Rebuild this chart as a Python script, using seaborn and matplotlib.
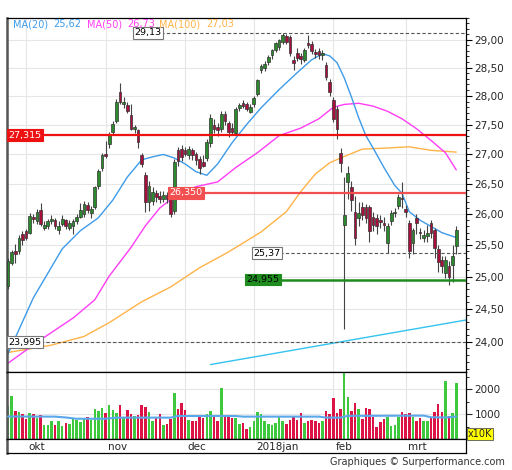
import numpy as np
import pandas as pd
import matplotlib
matplotlib.use("Agg")
import matplotlib.pyplot as plt
import matplotlib.ticker as mticker
import seaborn as sns

# daily candles, 25 sep 2017 .. 20 mrt 2018 (trading days)
opens = [24.86, 25.22, 25.40, 25.40, 25.67, 25.72, 25.70, 25.96, 25.88, 26.06,
         25.78, 25.80, 25.88, 25.90, 25.74, 25.84, 25.90, 25.78, 25.80, 25.88,
         25.96, 26.00, 26.15, 26.02, 26.12, 26.47, 26.77, 27.00, 27.16, 27.38,
         27.56, 28.06, 27.86, 27.84, 27.66, 27.43, 27.40, 26.98, 26.64, 26.20,
         26.22, 26.34, 26.30, 26.24, 26.32, 26.25, 26.05, 27.06, 27.08, 27.06,
         26.98, 27.06, 27.00, 26.92, 26.86, 26.93, 27.18, 27.50, 27.46, 27.42,
         27.68, 27.52, 27.44, 27.36, 27.79, 27.88, 27.85, 27.72, 27.85, 28.03,
         28.46, 28.50, 28.60, 28.72, 28.82, 28.87, 28.96, 29.07, 29.05, 28.64,
         28.77, 28.70, 28.64, 28.95, 28.93, 28.78, 28.80, 28.72, 28.55, 28.25,
         27.92, 27.77, 27.02, 25.83, 26.52, 26.44, 26.04, 25.94, 26.12, 26.12,
         26.12, 25.96, 25.93, 25.90, 25.86, 25.53, 25.88, 26.01, 26.14, 26.26,
         26.09, 25.85, 25.53, 25.94, 25.70, 25.61, 25.64, 25.85, 25.74, 25.43,
         25.27, 25.05, 25.17, 25.18, 25.49]
highs = [25.30, 25.42, 25.52, 25.66, 25.72, 25.76, 26.02, 26.00, 26.08, 26.18,
         25.88, 25.92, 25.98, 25.94, 25.88, 25.98, 25.92, 25.90, 25.92, 26.00,
         26.18, 26.22, 26.20, 26.14, 26.47, 26.75, 27.02, 27.22, 27.38, 27.56,
         27.95, 28.22, 27.98, 27.90, 27.85, 27.50, 27.43, 27.02, 26.70, 26.55,
         26.45, 26.40, 26.38, 26.38, 26.36, 26.30, 26.92, 27.12, 27.15, 27.12,
         27.14, 27.10, 27.04, 26.96, 26.98, 27.26, 27.68, 27.60, 27.52, 27.74,
         27.74, 27.56, 27.52, 27.80, 27.88, 27.92, 27.90, 27.86, 28.00, 28.30,
         28.56, 28.62, 28.72, 28.84, 28.97, 29.02, 29.13, 29.10, 29.08, 28.70,
         28.85, 28.76, 28.86, 29.09, 28.98, 28.84, 28.86, 28.82, 28.60, 28.30,
         27.98, 27.82, 27.10, 26.61, 26.80, 26.55, 26.30, 26.20, 26.20, 26.16,
         26.15, 26.03, 26.00, 25.98, 25.95, 25.86, 26.06, 26.10, 26.33, 26.53,
         26.15, 25.90, 25.78, 26.00, 25.78, 25.75, 25.82, 25.90, 25.78, 25.50,
         25.33, 25.33, 25.24, 25.50, 25.80]
lows = [24.80, 25.18, 25.22, 25.36, 25.50, 25.58, 25.68, 25.86, 25.84, 25.80,
        25.74, 25.76, 25.84, 25.76, 25.68, 25.80, 25.76, 25.74, 25.67, 25.84,
        25.94, 25.95, 26.02, 25.94, 26.08, 26.42, 26.72, 26.93, 27.10, 27.34,
        27.52, 27.85, 27.78, 27.70, 27.40, 27.36, 27.10, 26.78, 26.04, 26.05,
        26.15, 26.20, 26.18, 26.20, 26.18, 25.95, 26.00, 26.80, 26.88, 26.96,
        26.92, 26.90, 26.82, 26.66, 26.78, 26.88, 27.12, 27.36, 27.30, 27.38,
        27.50, 27.28, 27.32, 27.33, 27.74, 27.78, 27.74, 27.70, 27.80, 28.00,
        28.40, 28.44, 28.55, 28.66, 28.78, 28.82, 28.92, 28.92, 28.70, 28.45,
        28.62, 28.56, 28.60, 28.85, 28.74, 28.68, 28.66, 28.64, 28.28, 28.00,
        27.55, 27.26, 26.69, 24.20, 26.25, 26.05, 25.50, 25.80, 25.90, 25.85,
        25.55, 25.72, 25.68, 25.78, 25.72, 25.38, 25.82, 25.95, 26.08, 26.10,
        25.95, 25.30, 25.35, 25.68, 25.60, 25.55, 25.55, 25.62, 25.30, 25.08,
        25.05, 24.98, 24.87, 24.92, 25.35]
closes = [25.24, 25.39, 25.36, 25.62, 25.58, 25.62, 25.97, 25.92, 26.04, 25.84,
          25.82, 25.88, 25.92, 25.80, 25.80, 25.92, 25.80, 25.85, 25.88, 25.96,
          26.07, 26.17, 26.07, 26.09, 26.44, 26.72, 26.98, 26.96, 27.32, 27.51,
          27.90, 27.90, 27.90, 27.74, 27.43, 27.46, 27.21, 26.83, 26.20, 26.47,
          26.36, 26.28, 26.24, 26.32, 26.24, 26.00, 26.87, 26.88, 26.95, 27.00,
          27.08, 26.98, 26.90, 26.77, 26.80, 27.21, 27.62, 27.43, 27.40, 27.68,
          27.56, 27.38, 27.38, 27.77, 27.84, 27.83, 27.77, 27.80, 27.97, 28.28,
          28.52, 28.57, 28.69, 28.82, 28.95, 29.00, 29.09, 28.96, 28.76, 28.58,
          28.68, 28.66, 28.82, 28.90, 28.80, 28.74, 28.72, 28.76, 28.33, 28.07,
          27.60, 27.43, 26.85, 25.99, 26.67, 26.23, 25.61, 26.01, 25.99, 25.93,
          25.72, 25.83, 25.80, 25.87, 25.83, 25.80, 26.01, 26.04, 26.28, 26.24,
          26.04, 25.40, 25.75, 25.86, 25.69, 25.66, 25.70, 25.69, 25.45, 25.23,
          25.16, 25.27, 24.99, 25.33, 25.75]
# volume in units of 10K
volume = [1320, 1730, 1130, 1090, 990, 800, 1030, 1000, 830, 950,
          560, 560, 720, 560, 720, 520, 650, 600, 850, 760,
          670, 830, 880, 760, 1190, 1120, 1240, 1050, 1360, 1160,
          1050, 1360, 830, 1160, 990, 920, 960, 1360, 1280, 1090,
          720, 830, 990, 560, 600, 790, 1850, 1200, 1430, 1160,
          760, 730, 720, 890, 830, 990, 1130, 920, 720, 2030,
          920, 880, 830, 830, 600, 650, 390, 490, 720, 1090,
          990, 720, 600, 560, 650, 890, 730, 600, 760, 880,
          760, 1050, 650, 730, 760, 720, 650, 720, 1130, 990,
          1630, 1050, 1190, 2800, 1670, 1130, 1430, 1200, 790, 1230,
          1190, 890, 470, 670, 790, 890, 520, 560, 890, 1090,
          990, 1030, 880, 720, 830, 730, 720, 830, 1090, 1400,
          1090, 2330, 930, 1050, 2230]

# moving averages (day index, value)
ma20_day = [0, 7, 15, 20, 25, 29, 33, 37, 40, 43, 46, 49, 52, 55, 58, 62, 66, 70,
            75, 80, 84, 87, 89, 91, 93, 95, 97, 99, 101, 104, 107, 109, 111, 114,
            117, 120, 124]
ma20_val = [23.82, 24.67, 25.44, 25.73, 25.94, 26.23, 26.61, 26.90, 26.95, 26.99,
            26.93, 26.83, 26.70, 26.64, 26.83, 27.19, 27.50, 27.79, 28.11, 28.41,
            28.64, 28.75, 28.71, 28.59, 28.32, 27.98, 27.62, 27.31, 27.10, 26.77,
            26.47, 26.34, 26.04, 25.90, 25.80, 25.70, 25.62]
ma50_day = [0, 9, 18, 24, 28, 34, 38, 42, 47, 52, 58, 63, 69, 75, 81, 86, 90, 93,
            97, 101, 105, 109, 113, 117, 121, 124]
ma50_val = [23.68, 24.03, 24.36, 24.64, 25.01, 25.46, 25.81, 26.10, 26.33, 26.45,
            26.53, 26.77, 27.02, 27.31, 27.44, 27.60, 27.80, 27.85, 27.87, 27.82,
            27.73, 27.60, 27.43, 27.23, 27.02, 26.73]
ma100_day = [0, 12, 21, 28, 37, 45, 53, 61, 70, 77, 81, 85, 89, 92, 98, 105, 111,
             117, 124]
ma100_val = [23.84, 23.95, 24.08, 24.29, 24.61, 24.84, 25.14, 25.39, 25.71, 26.04,
             26.37, 26.66, 26.85, 26.93, 27.08, 27.10, 27.12, 27.06, 27.03]
volma_day = [0, 13, 16, 19, 27, 30, 45, 47, 63, 65, 86, 88, 92, 94, 115, 117, 121, 124]
volma_val = [900, 895, 860, 810, 810, 855, 855, 920, 920, 895, 895, 855, 855, 925,
             935, 870, 860, 900]

trend_day = [56, 126.7]
trend_val = [23.66, 24.33]

# horizontal levels: value, label, first day, style
level_val = [29.13, 27.315, 26.35, 25.37, 24.955, 23.995]
level_txt = ["29,13", "27,315", "26,350", "25,37", "24,955", "23,995"]
level_from = [34.6, -0.28, 44.3, 67.5, 65.6, -0.28]
level_kind = ["dash", "red", "red2", "dash", "green", "dash"]

month_day = [5, 27, 49, 68, 90, 110]
month_txt = ["okt", "nov", "dec", "2018jan", "feb", "mrt"]

legend_name = ["MA(20)", "MA(50)", "MA(100)"]
legend_last = ["25,62", "26,73", "27,03"]

df = pd.DataFrame({"day": np.arange(len(closes)), "open": opens, "high": highs,
                   "low": lows, "close": closes, "volume": volume})
df["up"] = df.close >= df.open

sns.set_style("white")
plt.rcParams["font.family"] = ["DejaVu Sans"]

C_BLUE = "#3d9be9"
C_MAG = "#ff3df5"
C_ORG = "#ffb347"

fig = plt.figure(figsize=(5.12, 4.70), dpi=100)
W, H = 512.0, 470.0
ax = fig.add_axes([7 / W, 1 - 372 / H, 459 / W, 354 / H])
axv = fig.add_axes([7 / W, 1 - 439 / H, 459 / W, 67 / H], sharex=ax)
axl = fig.add_axes([7 / W, 1 - 453 / H, 459 / W, 14 / H], sharex=ax)

XMIN, XMAX = -0.28, 126.7
ax.set_yscale("log")
ax.set_ylim(23.55, 29.40)
ax.set_xlim(XMIN, XMAX)

comma = mticker.FuncFormatter(lambda v, p: f"{v:.2f}".replace(".", ","))
ax.yaxis.set_major_locator(mticker.FixedLocator(np.arange(24, 29.01, 0.5)))
ax.yaxis.set_minor_locator(mticker.FixedLocator(np.arange(23.6, 29.41, 0.1)))
ax.yaxis.set_major_formatter(comma)
ax.yaxis.set_minor_formatter(mticker.NullFormatter())
ax.yaxis.tick_right()
ax.tick_params(axis="y", which="major", length=4, width=0.8, labelsize=7.5, pad=2,
               right=True, left=False, color="black")
ax.tick_params(axis="y", which="minor", length=2.5, width=0.7, right=True, left=False)
ax.tick_params(axis="x", bottom=False, labelbottom=False)
ax.grid(axis="y", which="major", color="#e6e6e6", lw=0.8)
for m in month_day:
    ax.axvline(m, color="#e6e6e6", lw=0.8, zorder=0)
    axv.axvline(m, color="#e6e6e6", lw=0.8, zorder=0)

# candles
ax.vlines(df.day, df.low, df.high, color="#444444", lw=0.8, zorder=3)
body_lo = np.minimum(df.open, df.close)
body_h = np.maximum(np.abs(df.close - df.open), 0.02)
ax.bar(df.day, body_h, bottom=body_lo, width=0.75,
       color=np.where(df.up, "#2b8a2b", "#a8103c"), edgecolor="#333333",
       linewidth=0.5, zorder=4)

# moving averages and trend line
sns.lineplot(x=ma100_day, y=ma100_val, ax=ax, color=C_ORG, lw=1.0, zorder=2)
sns.lineplot(x=ma50_day, y=ma50_val, ax=ax, color=C_MAG, lw=1.0, zorder=2)
sns.lineplot(x=ma20_day, y=ma20_val, ax=ax, color=C_BLUE, lw=1.0, zorder=2)
sns.lineplot(x=trend_day, y=trend_val, ax=ax, color="#33c3f0", lw=1.0, zorder=2)

# levels with their label boxes
for v, t, x0, k in zip(level_val, level_txt, level_from, level_kind):
    if k == "dash":
        ax.hlines(v, x0, XMAX, color="#555555", lw=0.8, ls=(0, (3, 2)), zorder=5)
        box = dict(boxstyle="square,pad=0.15", fc="white", ec="#777777", lw=0.8)
        tc = "black"
    elif k == "green":
        ax.hlines(v, x0, XMAX, color="#1e8c1e", lw=1.8, zorder=5)
        box = dict(boxstyle="square,pad=0.15", fc="#1e8c1e", ec="#1e8c1e", lw=0.8)
        tc = "black"
    else:
        col = "#ee1111" if k == "red" else "#f25050"
        ax.hlines(v, x0, XMAX, color=col, lw=1.6, zorder=5)
        box = dict(boxstyle="square,pad=0.15", fc=col, ec=col, lw=0.8)
        tc = "white"
    ax.text(x0 + 0.3, v, t, fontsize=6.8, color=tc, ha="left", va="center",
            bbox=box, zorder=6)

# legend text: name and last value at their own spots
name_x = [13, 87, 159]
last_x = [53, 127, 206]
for nx, lx2, n, l, c in zip(name_x, last_x, legend_name, legend_last,
                            [C_BLUE, C_MAG, C_ORG]):
    for px, t in ((nx, n), (lx2, l)):
        ax.text((px - 7) / 459, 0.983, t, transform=ax.transAxes, color=c,
                fontsize=7, ha="left", va="center", zorder=7)

# volume panel
axv.bar(df.day, df.volume, width=0.7, linewidth=0,
        color=np.where(df.up, "#3ec83e", "#dc1446"), zorder=2)
sns.lineplot(x=volma_day, y=volma_val, ax=axv, color="#5aa8ea", lw=1.5, zorder=3)
axv.set_ylim(0, 2680)
axv.yaxis.tick_right()
axv.yaxis.set_major_locator(mticker.FixedLocator([1000, 2000]))
axv.yaxis.set_minor_locator(mticker.FixedLocator([500, 1500, 2500]))
axv.tick_params(axis="y", which="major", length=4, width=0.8, labelsize=7.5, pad=2,
                right=True, left=False)
axv.tick_params(axis="y", which="minor", length=2.5, width=0.7, right=True, left=False)
axv.tick_params(axis="x", bottom=False, labelbottom=False)
axv.grid(axis="y", color="#e6e6e6", lw=0.8)
axv.set_axisbelow(True)

# month strip
axl.set_ylim(0, 1)
axl.set_yticks([])
axl.tick_params(axis="x", bottom=False, labelbottom=False)
for m, t in zip(month_day, month_txt):
    axl.text(m + 0.6, 0.45, t, fontsize=7.5, ha="left", va="center")

for a in (ax, axv, axl):
    for s in a.spines.values():
        s.set_color("black")
        s.set_linewidth(0.9)
    a.spines["left"].set_color("#555555")
    a.spines["left"].set_linewidth(1.8)

fig.text(468 / W, 1 - 434 / H, "x10K", fontsize=7, ha="left", va="center",
         bbox=dict(boxstyle="square,pad=0.1", fc="#ffff00", ec="#555555", lw=0.6))
fig.text(505 / W, 1 - 462 / H, "Graphiques © Surperformance.com", fontsize=7,
         ha="right", va="center", color="#333333")

fig.savefig("out.png", dpi=100)
